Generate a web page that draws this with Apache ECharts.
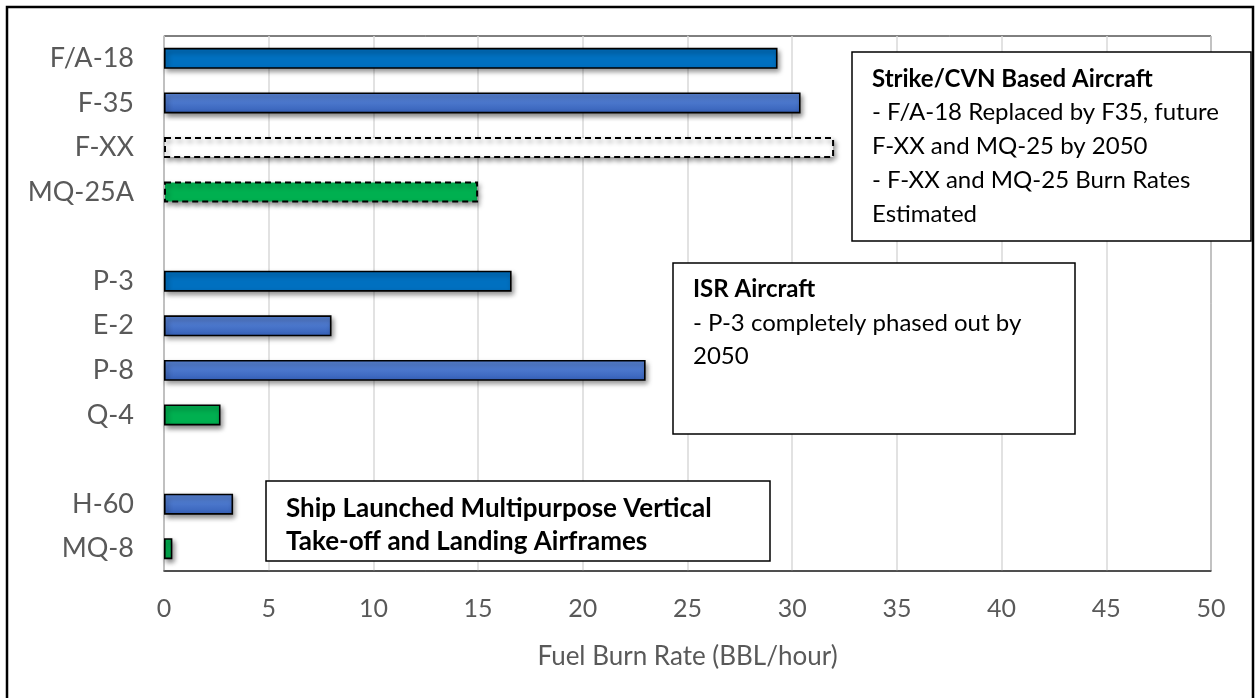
<!DOCTYPE html>
<html>
<head>
<meta charset="utf-8">
<script src="https://cdn.jsdelivr.net/npm/echarts@6/dist/echarts.min.js"></script>
<style>html,body{margin:0;padding:0;background:#fff}#c{width:1256px;height:698px}</style>
</head>
<body>
<div id="c"></div>
<script>
const categories = ['F/A-18', 'F-35', 'F-XX', 'MQ-25A', '', 'P-3', 'E-2', 'P-8', 'Q-4', ' ', 'H-60', 'MQ-8'];
const burnRates = [29.3, 30.4, 32.0, 15.0, null, 16.6, 8.0, 23.0, 2.7, null, 3.3, 0.4];
const xTicks = [0, 5, 10, 15, 20, 25, 30, 35, 40, 45, 50];
const xAxisTitle = 'Fuel Burn Rate (BBL/hour)';

const FONT = 'Lato, "Open Sans", sans-serif';
const blueSolid = '#0070C0';
const blueGrad = {type:'linear', x:0, y:0, x2:0, y2:1, colorStops:[{offset:0,color:'#5B85D6'},{offset:0.5,color:'#4A76CB'},{offset:1,color:'#3560B8'}]};
const green = '#00B050';
const styleByCat = {
  'F/A-18': {color: blueSolid},
  'F-35': {color: blueGrad},
  'F-XX': {color: '#ffffff', dashed: true},
  'MQ-25A': {color: green, dashed: true},
  'P-3': {color: blueSolid},
  'E-2': {color: blueGrad},
  'P-8': {color: blueGrad},
  'Q-4': {color: green},
  'H-60': {color: blueGrad},
  'MQ-8': {color: green}
};

const seriesData = burnRates.map((v, i) => {
  const s = styleByCat[categories[i]] || {};
  return {
    value: v,
    itemStyle: {
      color: s.color,
      borderColor: '#000',
      borderWidth: s.dashed ? 2 : 1.6,
      borderType: s.dashed ? [6, 4] : 'solid',
      shadowColor: 'rgba(0,0,0,0.45)',
      shadowBlur: 5,
      shadowOffsetX: 2,
      shadowOffsetY: 3
    }
  };
});

const chart = echarts.init(document.getElementById('c'), null, {renderer: 'canvas'});

const boxText = (x, y, rich, lineHeight, size) => ({
  type: 'text', left: x, top: y, z: 101,
  style: {text: rich, fontFamily: FONT, fontSize: size, lineHeight: lineHeight, fill: '#000',
    rich: {b: {fontWeight: 'bold', fontFamily: FONT, fontSize: size, lineHeight: lineHeight, fill: '#000'}}}
});

chart.setOption({
  animation: false,
  grid: {left: 164, right: 45, top: 36, bottom: 127, show: true, borderColor: '#000', borderWidth: 1, containLabel: false},
  xAxis: {
    type: 'value', min: xTicks[0], max: xTicks[xTicks.length - 1], interval: xTicks[1] - xTicks[0],
    axisLine: {show: true, lineStyle: {color: '#404040', width: 1.5}},
    axisTick: {show: false},
    splitLine: {lineStyle: {color: '#D9D9D9', width: 1.5}},
    axisLabel: {color: '#595959', fontSize: 25, fontFamily: FONT, margin: 25},
    name: xAxisTitle, nameLocation: 'middle', nameGap: 73,
    nameTextStyle: {color: '#595959', fontSize: 26, fontFamily: FONT}
  },
  yAxis: {
    type: 'category', data: categories, inverse: true,
    axisLine: {show: true, lineStyle: {color: '#BFBFBF', width: 1.5}},
    axisTick: {show: false},
    axisLabel: {color: '#595959', fontSize: 27, fontFamily: FONT, margin: 30}
  },
  series: [{
    type: 'bar', data: seriesData, barWidth: 21, z: 2
  }],
  graphic: [
    {type: 'rect', shape: {x: 7, y: 7, width: 1246, height: 700}, style: {fill: 'none', stroke: '#000', lineWidth: 2.5}, z: 200, silent: true},
    {type: 'rect', shape: {x: 852, y: 52, width: 399, height: 189}, style: {fill: '#fff', stroke: '#000', lineWidth: 1.5}, z: 100},
    boxText(872, 62, '{b|Strike/CVN Based Aircraft}\n- F/A-18 Replaced by F35, future\nF-XX and MQ-25 by 2050\n- F-XX and MQ-25 Burn Rates\nEstimated', 33.8, 24),
    {type: 'rect', shape: {x: 673, y: 263, width: 402, height: 171}, style: {fill: '#fff', stroke: '#000', lineWidth: 1.5}, z: 100},
    boxText(693, 273, '{b|ISR Aircraft}\n- P-3 completely phased out by\n2050', 33.5, 24),
    {type: 'rect', shape: {x: 266, y: 481, width: 504, height: 80}, style: {fill: '#fff', stroke: '#000', lineWidth: 1.5}, z: 100},
    boxText(286, 492, '{b|Ship Launched Multipurpose Vertical}\n{b|Take-off and Landing Airframes}', 33, 26)
  ]
});
</script>
</body>
</html>
